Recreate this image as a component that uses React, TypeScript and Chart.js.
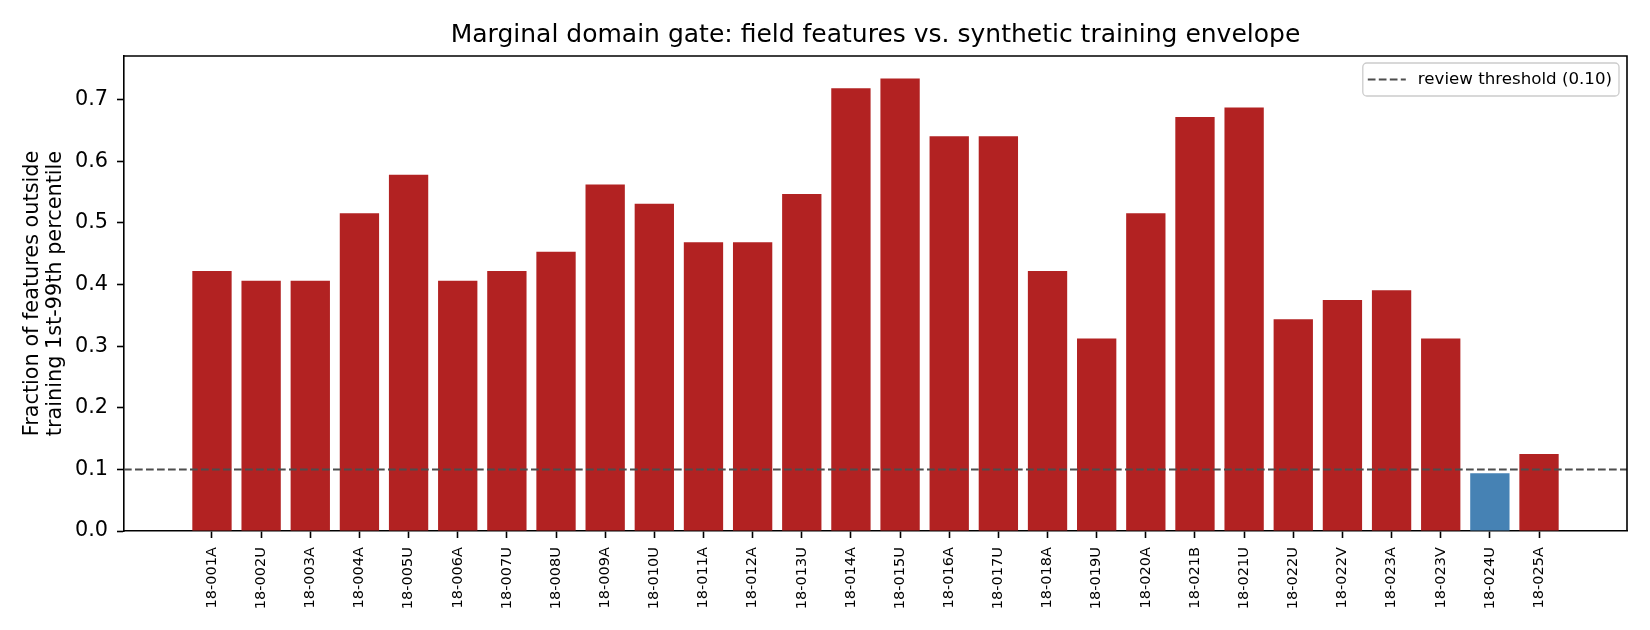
import { useEffect, useRef } from 'react'
import { Chart, registerables } from 'chart.js'

Chart.register(...registerables)

const samples = [
  '18-001A', '18-002U', '18-003A', '18-004A', '18-005U', '18-006A', '18-007U',
  '18-008U', '18-009A', '18-010U', '18-011A', '18-012A', '18-013U', '18-014A',
  '18-015U', '18-016A', '18-017U', '18-018A', '18-019U', '18-020A', '18-021B',
  '18-021U', '18-022U', '18-022V', '18-023A', '18-023V', '18-024U', '18-025A',
]

// fraction of the 64 features that fall outside the training 1st-99th percentile
const fractionOutside = [
  0.421875, 0.40625, 0.40625, 0.515625, 0.578125, 0.40625, 0.421875,
  0.453125, 0.5625, 0.53125, 0.46875, 0.46875, 0.546875, 0.71875,
  0.734375, 0.640625, 0.640625, 0.421875, 0.3125, 0.515625, 0.671875,
  0.6875, 0.34375, 0.375, 0.390625, 0.3125, 0.09375, 0.125,
]

const yTicks = [0, 0.1, 0.2, 0.3, 0.4, 0.5, 0.6, 0.7]
const reviewThreshold = 0.1

const FONT = 'DejaVu Sans'
const FLAGGED = '#b22222'
const PASSED = '#4682b4'
const THRESH_COLOR = '#4d4d4d'
const THRESH_DASH = [7.7, 3.3]

const thresholdPlugin = {
  id: 'thresholdAndFrame',
  afterDatasetsDraw(chart: any) {
    const { ctx, chartArea, scales } = chart
    const y = scales.y.getPixelForValue(reviewThreshold)
    ctx.save()
    ctx.strokeStyle = THRESH_COLOR
    ctx.lineWidth = 2
    ctx.setLineDash(THRESH_DASH)
    ctx.beginPath()
    ctx.moveTo(chartArea.left, y)
    ctx.lineTo(chartArea.right, y)
    ctx.stroke()
    ctx.restore()
  },
  afterDraw(chart: any) {
    const { ctx, chartArea } = chart
    ctx.save()
    // top and right spines
    ctx.strokeStyle = '#000'
    ctx.lineWidth = 1.6
    ctx.beginPath()
    ctx.moveTo(chartArea.left, chartArea.top)
    ctx.lineTo(chartArea.right, chartArea.top)
    ctx.lineTo(chartArea.right, chartArea.bottom)
    ctx.stroke()

    // legend box
    const label = `review threshold (${reviewThreshold.toFixed(2)})`
    ctx.font = `16.67px "${FONT}"`
    const textW = ctx.measureText(label).width
    const w = 5 + 38 + 12 + textW + 7
    const h = 33
    const x0 = chartArea.right - 8 - w
    const y0 = chartArea.top + 7
    ctx.beginPath()
    ctx.roundRect(x0, y0, w, h, 4)
    ctx.fillStyle = 'rgba(255,255,255,0.8)'
    ctx.fill()
    ctx.strokeStyle = '#cccccc'
    ctx.lineWidth = 1.3
    ctx.stroke()

    const cy = y0 + h / 2
    ctx.strokeStyle = THRESH_COLOR
    ctx.lineWidth = 2
    ctx.setLineDash(THRESH_DASH)
    ctx.beginPath()
    ctx.moveTo(x0 + 5, cy)
    ctx.lineTo(x0 + 43, cy)
    ctx.stroke()
    ctx.setLineDash([])

    ctx.fillStyle = '#000'
    ctx.textAlign = 'left'
    ctx.textBaseline = 'middle'
    ctx.fillText(label, x0 + 55, cy)
    ctx.restore()
  },
}

export default function App() {
  const canvasRef = useRef<HTMLCanvasElement>(null)
  const chartRef = useRef<Chart | null>(null)

  useEffect(() => {
    document.body.style.margin = '0'
    if (!canvasRef.current) return
    if (chartRef.current) chartRef.current.destroy()

    Chart.defaults.font.family = FONT
    Chart.defaults.color = '#000'

    const points = fractionOutside.map((v, i) => ({ x: i, y: v }))
    const colors = fractionOutside.map((v) => (v < reviewThreshold ? PASSED : FLAGGED))

    chartRef.current = new Chart(canvasRef.current, {
      type: 'bar',
      data: {
        datasets: [
          {
            label: 'fraction outside',
            data: points,
            backgroundColor: colors,
            borderWidth: 0,
            barPercentage: 0.8,
            categoryPercentage: 1.0,
          },
        ],
      },
      options: {
        animation: false,
        responsive: true,
        maintainAspectRatio: false,
        layout: { padding: { left: 0, right: 23, top: 0, bottom: 0 } },
        plugins: {
          legend: { display: false },
          tooltip: { enabled: false },
          title: {
            display: true,
            text: 'Marginal domain gate: field features vs. synthetic training envelope',
            fullSize: false,
            color: '#000',
            font: { size: 25, weight: 'normal', family: FONT, lineHeight: 1.2 },
            padding: { top: 20, bottom: 6 },
          },
        },
        scales: {
          x: {
            type: 'linear',
            offset: false,
            min: -1.79,
            max: 28.79,
            afterBuildTicks: (scale: any) => {
              scale.ticks = samples.map((_, i) => ({ value: i }))
            },
            afterFit: (scale: any) => {
              scale.height = 99
            },
            ticks: {
              autoSkip: false,
              minRotation: 90,
              maxRotation: 90,
              padding: 9,
              color: '#000',
              font: { size: 14.58, family: FONT },
              callback: (v: any) => samples[v] ?? '',
            },
            grid: {
              display: true,
              offset: false,
              drawOnChartArea: false,
              drawTicks: true,
              tickLength: 7,
              tickWidth: 1.6,
              tickColor: '#000',
            },
            border: { display: true, color: '#000', width: 1.6 },
          },
          y: {
            min: 0,
            max: 0.771,
            afterBuildTicks: (scale: any) => {
              scale.ticks = yTicks.map((v) => ({ value: v }))
            },
            afterFit: (scale: any) => {
              scale.width = 124
            },
            ticks: {
              padding: 9,
              color: '#000',
              font: { size: 20.8, family: FONT },
              callback: (v: any) => Number(v).toFixed(1),
            },
            grid: {
              display: true,
              drawOnChartArea: false,
              drawTicks: true,
              tickLength: 7,
              tickWidth: 1.6,
              tickColor: '#000',
            },
            border: { display: true, color: '#000', width: 1.6 },
            title: {
              display: true,
              text: ['Fraction of features outside', 'training 1st-99th percentile'],
              color: '#000',
              font: { size: 20.8, family: FONT, lineHeight: 1.12 },
              padding: { top: 21, bottom: 0 },
            },
          },
        },
      },
      plugins: [thresholdPlugin],
    })

    return () => {
      if (chartRef.current) {
        chartRef.current.destroy()
        chartRef.current = null
      }
    }
  }, [])

  return (
    <div style={{ width: '1650px', height: '630px', position: 'relative' }}>
      <canvas ref={canvasRef}></canvas>
    </div>
  )
}
